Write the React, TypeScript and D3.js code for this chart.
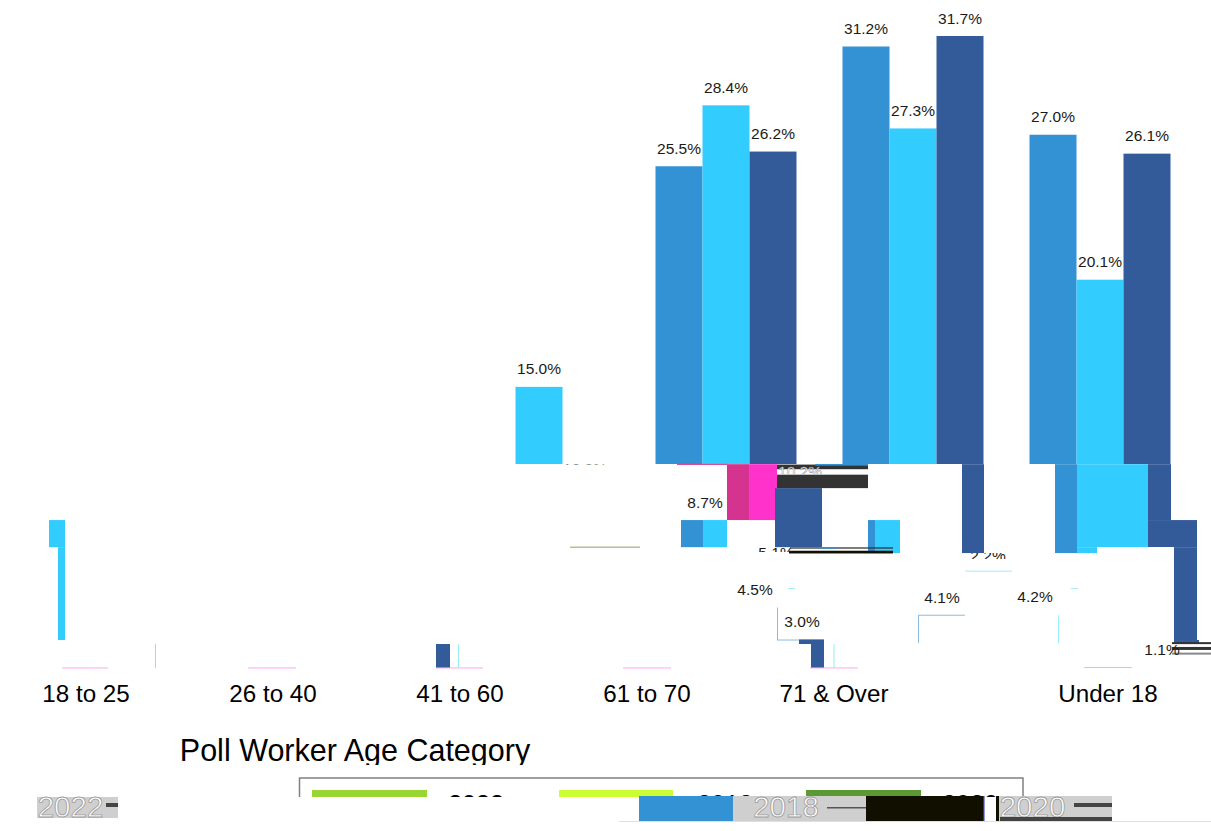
import React from "react";
import * as d3 from "d3";

const categories = ["18 to 25", "26 to 40", "41 to 60", "61 to 70", "71 & Over", "Under 18"];
const seriesNames = ["2018", "2020", "2022"];
const legendNames = ["2022", "2018", "2020"];
// values read from the visible upper part of the bars (null: the bar is not visible)
const values2018: (number | null)[] = [null, null, null, 25.5, 31.2, 27.0];
const values2020: (number | null)[] = [null, null, 15.0, 28.4, 27.3, 20.1];
const values2022: (number | null)[] = [null, null, null, 26.2, 31.7, 26.1];
const seriesValues = [values2018, values2020, values2022];
const seriesColors = ["#3392D4", "#33CCFF", "#335A99"];

const BLUE = "#3392D4", CYAN = "#33CCFF", DARK = "#335A99", ROSE = "#D4338F", PINK = "#FF33CC";
const INK = "#333333", NIGHT = "#100F00", LEAF = "#99D633", LIME = "#CCFF33", MOSS = "#5C9933";

// displaced remains of bars in the lower part: colour, x from, x to, value top, value bottom
const fragments: [string, number, number, number, number][] = [
  [ROSE, 727, 749, 11.32, 8.66],
  [PINK, 749, 777, 11.32, 8.66],
  [DARK, 775, 822, 10.18, 7.37],
  [BLUE, 681, 703, 8.66, 7.37],
  [CYAN, 703, 727, 8.66, 7.37],
  [BLUE, 868, 875, 8.66, 7.09],
  [CYAN, 875, 900, 8.66, 7.09],
  [DARK, 962, 984, 11.32, 7.09],
  [BLUE, 1055, 1077, 11.32, 7.09],
  [CYAN, 1077, 1148, 11.32, 7.37],
  [CYAN, 1077, 1097, 7.37, 7.09],
  [DARK, 1148, 1171, 11.32, 8.66],
  [DARK, 1148, 1197, 8.66, 7.37],
  [DARK, 1174, 1197, 7.37, 2.95],
  [DARK, 1174, 1199, 2.95, 2.8],
  [CYAN, 49, 65, 8.66, 7.37],
  [CYAN, 58, 65, 7.37, 2.95],
  [DARK, 799, 824, 2.98, 2.76],
  [DARK, 811, 824, 2.76, 1.62],
  [DARK, 436, 450, 2.76, 1.62],
  [INK, 777, 868, 10.82, 10.18],
  [INK, 777, 868, 11.3, 11.08],
  [INK, 790, 893, 7.36, 7.3],
  [NIGHT, 789, 893, 7.2, 7.07],
  [BLUE, 820, 838, 7.36, 7.3],
  [BLUE, 815, 868, 11.33, 11.25],
];

// thin leftovers: colour, x1, value1, x2, value2
const slivers: [string, number, number, number, number][] = [
  ["#FFAAEE", 62, 1.62, 108, 1.62],
  ["#FFAAEE", 248, 1.62, 296, 1.62],
  ["#FFAAEE", 436, 1.62, 483, 1.62],
  ["#FFAAEE", 623, 1.62, 671, 1.62],
  ["#FFAAEE", 810, 1.62, 858, 1.62],
  ["#FFAAEE", 1084, 1.64, 1132, 1.64],
  ["#FFAAEE", 155.5, 2.76, 155.5, 1.62],
  ["#99EEEE", 458.5, 2.76, 458.5, 1.62],
  ["#99EEEE", 834, 2.76, 834, 1.62],
  ["#88BBE0", 777.5, 4.5, 777.5, 2.95],
  ["#88BBE0", 777, 2.95, 799, 2.95],
  ["#88BBE0", 918.5, 4.13, 918.5, 2.8],
  ["#88BBE0", 918, 4.13, 965, 4.13],
  ["#AAE8F5", 965, 6.23, 1012, 6.23],
  ["#99EEFF", 1058.5, 4.13, 1058.5, 2.8],
  ["#AAE8F5", 1071, 5.4, 1078, 5.4],
  ["#AAE8F5", 788, 5.4, 795, 5.4],
  ["#8AA35A", 570, 7.37, 640, 7.37],
  [ROSE, 677, 11.31, 727, 11.31],
];

// labels left out of place: text, x centre, baseline, visible from, visible to
const strayLabels: [string, number, number, number, number][] = [
  ["8.7%", 705, 508, 480, 520],
  ["4.5%", 755, 595, 570, 610],
  ["3.0%", 802, 627, 607, 640],
  ["4.1%", 942, 603, 585, 612],
  ["4.2%", 1035, 602, 585, 612],
  ["13.3%", 585, 474, 460, 464.5],
  ["9.9%", 557, 558, 544, 548],
  ["1.7%", 850, 656, 640, 644.5],
  ["5.1%", 776, 558, 547, 552],
  ["2.2%", 988, 561, 553, 559],
  ["1.1%", 1162, 655, 643, 655],
];

const y = d3.scaleLinear().domain([0, 31.7]).range([702, 36]);
const x0 = d3.scaleBand<string>().domain(categories).range([-7.5, 1114.5]);
const x1 = d3.scaleBand<string>().domain(seriesNames).range([0, 141]);
const groupOffset = 79 - 70.5;
const font = "'Liberation Sans', Arial, sans-serif";
const ghost = { fill: "#fff", stroke: "#999", strokeWidth: 0.8 };

export default function App() {
  return (
    <svg width={1211} height={831} style={{ position: "absolute", left: 0, top: 0, background: "#fff" }} fontFamily={font}>
      <defs>
        <clipPath id="top"><rect x={0} y={0} width={1211} height={464} /></clipPath>
        <clipPath id="title"><rect x={0} y={725} width={1211} height={40} /></clipPath>
        <clipPath id="legendTop"><rect x={299} y={793} width={730} height={4} /></clipPath>
        <clipPath id="garble"><rect x={777} y={464} width={50} height={10} /></clipPath>
        {strayLabels.map((d, i) => (
          <clipPath id={`s${i}`} key={i}><rect x={0} y={d[3]} width={1211} height={d[4] - d[3]} /></clipPath>
        ))}
      </defs>

      <g clipPath="url(#top)">
        {seriesValues.map((vals, s) =>
          vals.map((v, c) =>
            v === null ? null : (
              <rect key={`${s}-${c}`}
                x={x0(categories[c])! + x0.bandwidth() / 2 + groupOffset + x1(seriesNames[s])!}
                y={y(v)} width={x1.bandwidth()} height={y(0) - y(v)} fill={seriesColors[s]} />
            )
          )
        )}
      </g>
      {seriesValues.map((vals, s) =>
        vals.map((v, c) =>
          v === null ? null : (
            <text key={`l${s}-${c}`}
              x={x0(categories[c])! + x0.bandwidth() / 2 + groupOffset + x1(seriesNames[s])! + x1.bandwidth() / 2}
              y={y(v) - 12.5} textAnchor="middle" fontSize={15.5} fill="#1a1a1a">{v.toFixed(1)}%</text>
          )
        )
      )}

      {fragments.map((f, i) => (
        <rect key={i} x={f[1]} width={f[2] - f[1]} y={y(f[3])} height={y(f[4]) - y(f[3])} fill={f[0]} />
      ))}
      {slivers.map((l, i) => (
        <line key={i} x1={l[1]} x2={l[3]} y1={y(l[2])} y2={y(l[4])} stroke={l[0]} strokeWidth={1} />
      ))}
      <rect x={1097} width={77} y={y(7.37)} height={y(2.95) - y(7.37)} fill="#fff" />
      <text x={800} y={477} textAnchor="middle" fontSize={15.5} fill="#fff" stroke="#778" strokeWidth={0.4} clipPath="url(#garble)">10.2%</text>
      <rect x={1172} width={39} y={y(2.85)} height={2} fill={INK} />
      <rect x={1172} width={39} y={y(2.62)} height={3} fill={INK} />
      <rect x={1172} width={39} y={y(2.35)} height={2} fill="#888" />

      {strayLabels.map((d, i) => (
        <text key={i} x={d[1]} y={d[2]} textAnchor="middle" fontSize={15.5} fill="#1a1a1a" clipPath={`url(#s${i})`}>{d[0]}</text>
      ))}

      {categories.map((c, i) => (
        <text key={c} x={x0(c)! + x0.bandwidth() / 2 + (c === "Under 18" ? 87 : 0)} y={702}
          textAnchor="middle" fontSize={24.2} fill="#000">{c}</text>
      ))}
      <text x={355} y={761} textAnchor="middle" fontSize={30.5} fill="#000" clipPath="url(#title)">Poll Worker Age Category</text>

      <path d="M299.5,797V778H1023V797" fill="none" stroke="#808080" strokeWidth={1.5} />
      <rect x={312} y={790} width={115} height={7} fill={LEAF} />
      <rect x={559} y={790} width={114} height={7} fill={LIME} />
      <rect x={806} y={790} width={115} height={7} fill={MOSS} />
      <g clipPath="url(#legendTop)" fontSize={25} fill="#000">
        <text x={476} y={813} textAnchor="middle">{legendNames[0]}</text>
        <text x={725} y={813} textAnchor="middle">{legendNames[1]}</text>
        <text x={970} y={813} textAnchor="middle">{legendNames[2]}</text>
      </g>

      <rect x={37} y={797} width={81} height={21} fill="#CFCFCF" />
      <rect x={106} y={803} width={12} height={4} fill="#444" />
      <text x={70.5} y={817} textAnchor="middle" fontSize={29.5} {...ghost}>{legendNames[0]}</text>
      <rect x={639} y={796} width={94} height={25} fill={BLUE} />
      <rect x={733} y={796} width={133} height={25} fill="#CFCFCF" />
      <rect x={827} y={807} width={39} height={1.5} fill="#555" />
      <text x={786} y={817} textAnchor="middle" fontSize={29.5} {...ghost}>{legendNames[1]}</text>
      <rect x={866} y={796} width={117} height={25} fill={NIGHT} />
      <rect x={983} y={796} width={1.5} height={25} fill="#2233CC" />
      <rect x={996} y={796} width={3} height={25} fill={NIGHT} />
      <rect x={999} y={796} width={113} height={25} fill="#CFCFCF" />
      <text x={1032.5} y={817} textAnchor="middle" fontSize={29.5} {...ghost}>{legendNames[2]}</text>
      <rect x={1074} y={803} width={38} height={4} fill="#444" />
      <rect x={1000} y={817} width={112} height={4} fill="#444" />
      <line x1={619} x2={1211} y1={821.5} y2={821.5} stroke="#DDDDEE" strokeWidth={1} />
    </svg>
  );
}
